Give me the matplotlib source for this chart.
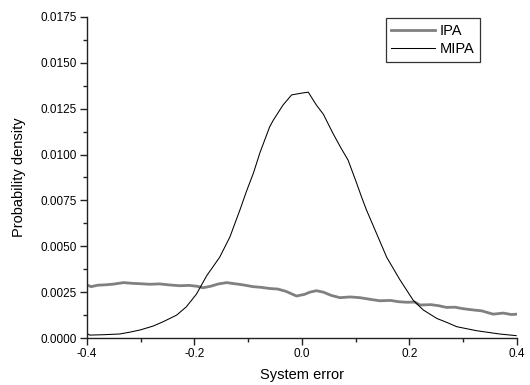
import matplotlib.pyplot as plt
from matplotlib.ticker import MultipleLocator, FormatStrFormatter

plt.rcParams['font.family'] = ['Liberation Sans', 'DejaVu Sans']

# IPA curve (gray, thick)
ipa_x = [-0.400, -0.392, -0.380, -0.365, -0.350, -0.332, -0.315, -0.300, -0.283,
         -0.265, -0.245, -0.227, -0.210, -0.195, -0.184, -0.170, -0.155, -0.140,
         -0.125, -0.110, -0.091, -0.075, -0.060, -0.045, -0.030, -0.010, 0.005,
         0.015, 0.027, 0.040, 0.055, 0.071, 0.090, 0.108, 0.125, 0.145, 0.165,
         0.180, 0.195, 0.210, 0.220, 0.240, 0.255, 0.269, 0.285, 0.300, 0.319,
         0.335, 0.356, 0.375, 0.390, 0.400]
ipa_y = [0.00289, 0.00280, 0.00288, 0.00290, 0.00294, 0.00302, 0.00298, 0.00296, 0.00293,
         0.00295, 0.00289, 0.00285, 0.00287, 0.00282, 0.00274, 0.00282, 0.00295, 0.00302,
         0.00296, 0.00290, 0.00280, 0.00276, 0.00270, 0.00267, 0.00255, 0.00229, 0.00238,
         0.00250, 0.00258, 0.00250, 0.00232, 0.00220, 0.00224, 0.00220, 0.00212, 0.00203, 0.00205,
         0.00198, 0.00195, 0.00196, 0.00180, 0.00182, 0.00176, 0.00167, 0.00168, 0.00160, 0.00153,
         0.00148, 0.00130, 0.00136, 0.00128, 0.00130]

# MIPA curve (black, thin)
mipa_x = [-0.400, -0.395, -0.370, -0.339, -0.320, -0.301, -0.277, -0.258, -0.233,
          -0.215, -0.196, -0.177, -0.153, -0.134, -0.115, -0.103, -0.090, -0.078,
          -0.060, -0.053, -0.035, -0.019, 0.000, 0.012, 0.027, 0.040, 0.058, 0.072,
          0.086, 0.100, 0.111, 0.120, 0.139, 0.158, 0.182, 0.207, 0.226, 0.251,
          0.270, 0.288, 0.325, 0.368, 0.399]
mipa_y = [0.00026, 0.00016, 0.00018, 0.00022, 0.00032, 0.00044, 0.00065, 0.00089, 0.00125,
          0.00170, 0.00240, 0.00340, 0.00440, 0.00550, 0.00700, 0.00800, 0.00900, 0.01010,
          0.01150, 0.01188, 0.01270, 0.01325, 0.01335, 0.01340, 0.01270, 0.01220, 0.01115, 0.01040,
          0.00970, 0.00860, 0.00770, 0.00700, 0.00570, 0.00440, 0.00320, 0.00207, 0.00153, 0.00107,
          0.00085, 0.00062, 0.00040, 0.00022, 0.00013]

fig = plt.figure(figsize=(5.3, 3.85), dpi=100)
ax = fig.add_axes([0.164, 0.122, 0.811, 0.834])

ax.plot(ipa_x, ipa_y, color='#808080', linewidth=2.0, label='IPA')
ax.plot(mipa_x, mipa_y, color='black', linewidth=0.75, label='MIPA')

ax.set_xlim(-0.4, 0.4)
ax.set_ylim(0, 0.0175)
ax.xaxis.set_major_locator(MultipleLocator(0.2))
ax.xaxis.set_minor_locator(MultipleLocator(0.1))
ax.yaxis.set_major_locator(MultipleLocator(0.0025))
ax.yaxis.set_minor_locator(MultipleLocator(0.00125))
ax.xaxis.set_major_formatter(FormatStrFormatter('%.1f'))
ax.yaxis.set_major_formatter(FormatStrFormatter('%.4f'))

ax.spines['top'].set_visible(False)
ax.spines['right'].set_visible(False)
for s in ['left', 'bottom']:
    ax.spines[s].set_linewidth(1.0)
    ax.spines[s].set_color('#222222')
ax.tick_params(which='major', direction='out', length=5, width=1.0, labelsize=8.5,
               color='#222222', pad=2)
ax.tick_params(which='minor', direction='out', length=3, width=1.0, color='#222222')

ax.set_xlabel('System error', fontsize=10.5, labelpad=6)
ax.set_ylabel('Probability density', fontsize=10.5, labelpad=11)

leg = ax.legend(loc='upper left', bbox_to_anchor=(0.695, 0.997), borderaxespad=0,
                fancybox=False, fontsize=10.5, handlelength=3.0, handletextpad=0.3,
                borderpad=0.4, labelspacing=0.3, framealpha=1)
leg.get_frame().set_edgecolor('#333333')
leg.get_frame().set_linewidth(0.9)

fig.savefig('out.png', dpi=100)
